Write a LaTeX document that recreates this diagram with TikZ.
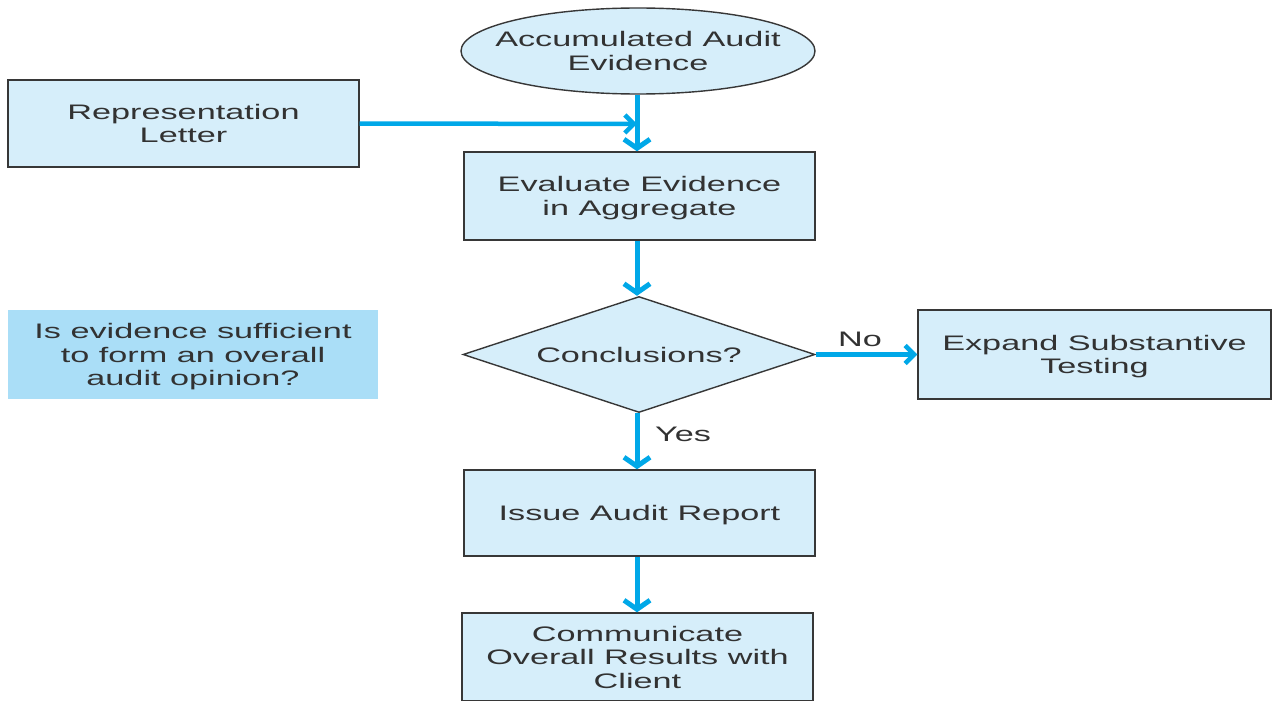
\documentclass[tikz,border=0pt]{standalone}
\usepackage{fontspec}
\setmainfont[FakeStretch=1.63]{Liberation Sans}
\usetikzlibrary{shapes.geometric,arrows.meta}
\definecolor{boxfill}{RGB}{214,238,250}
\definecolor{notefill}{RGB}{170,222,247}
\definecolor{flow}{RGB}{0,168,232}
\definecolor{ink}{RGB}{50,50,50}
\definecolor{edge}{RGB}{55,55,55}
\begin{document}
\begin{tikzpicture}[x=1pt,y=-1pt,
  every node/.style={font=\fontsize{21}{23.5}\selectfont, text=ink, align=center},
  stepbox/.style={draw=edge, line width=1.4pt, fill=boxfill, rectangle, inner sep=0pt},
  notebox/.style={fill=notefill, rectangle, inner sep=0pt},
  lowtext/.style={text depth=0pt},
  flowv/.style={draw=flow, line width=5pt, -{Straight Barb[length=9pt,width=26pt]}},
  flowh/.style={draw=flow, line width=4.5pt, -{Straight Barb[length=9pt,width=18pt]}}]
\useasboundingbox (0,0) rectangle (1272,701);
\fill[white] (0,0) rectangle (1272,701);

% process steps
\node[stepbox, ellipse, minimum width=354pt, minimum height=86pt,
      label={[align=center]center:Accumulated Audit\\Evidence}] (acc) at (638,51) {};
\node[stepbox, minimum width=351pt, minimum height=87pt] (rep) at (183.5,123.5) {Representation\\Letter};
\node[stepbox, lowtext, minimum width=351pt, minimum height=88pt] (eval) at (639.5,196) {Evaluate Evidence\\in Aggregate};
\node[stepbox, diamond, aspect=3, minimum width=352pt, minimum height=116pt] (concl) at (639,354.5) {Conclusions?};
\node[stepbox, lowtext, minimum width=353pt, minimum height=89pt] (expand) at (1094.5,354.5) {Expand Substantive\\Testing};
\node[stepbox, lowtext, minimum width=351pt, minimum height=86pt] (issue) at (639.5,513) {Issue Audit Report};
\node[stepbox, minimum width=351pt, minimum height=88pt] (comm) at (637.5,657) {Communicate\\Overall Results with\\Client};
\node[notebox, lowtext, minimum width=370pt, minimum height=89pt] (note) at (193,354.5) {Is evidence sufficient\\to form an overall\\audit opinion?};

% connectors
\coordinate (join) at (637,124);
\draw[flowv] (acc.south -| join) -- (eval.north -| join);
\draw[flowh] (rep.east) -- (join);
\draw[flowv] (eval.south -| join) -- (concl.north -| join);
\draw[flowh] (concl.east) -- (expand.west);
\draw[flowv] (concl.south -| join) -- (issue.north -| join);
\draw[flowv] (issue.south -| join) -- (comm.north -| join);

% branch labels
\node (no) at (860,339) {No};
\node (yes) at (683,434) {Yes};
\end{tikzpicture}
\end{document}
